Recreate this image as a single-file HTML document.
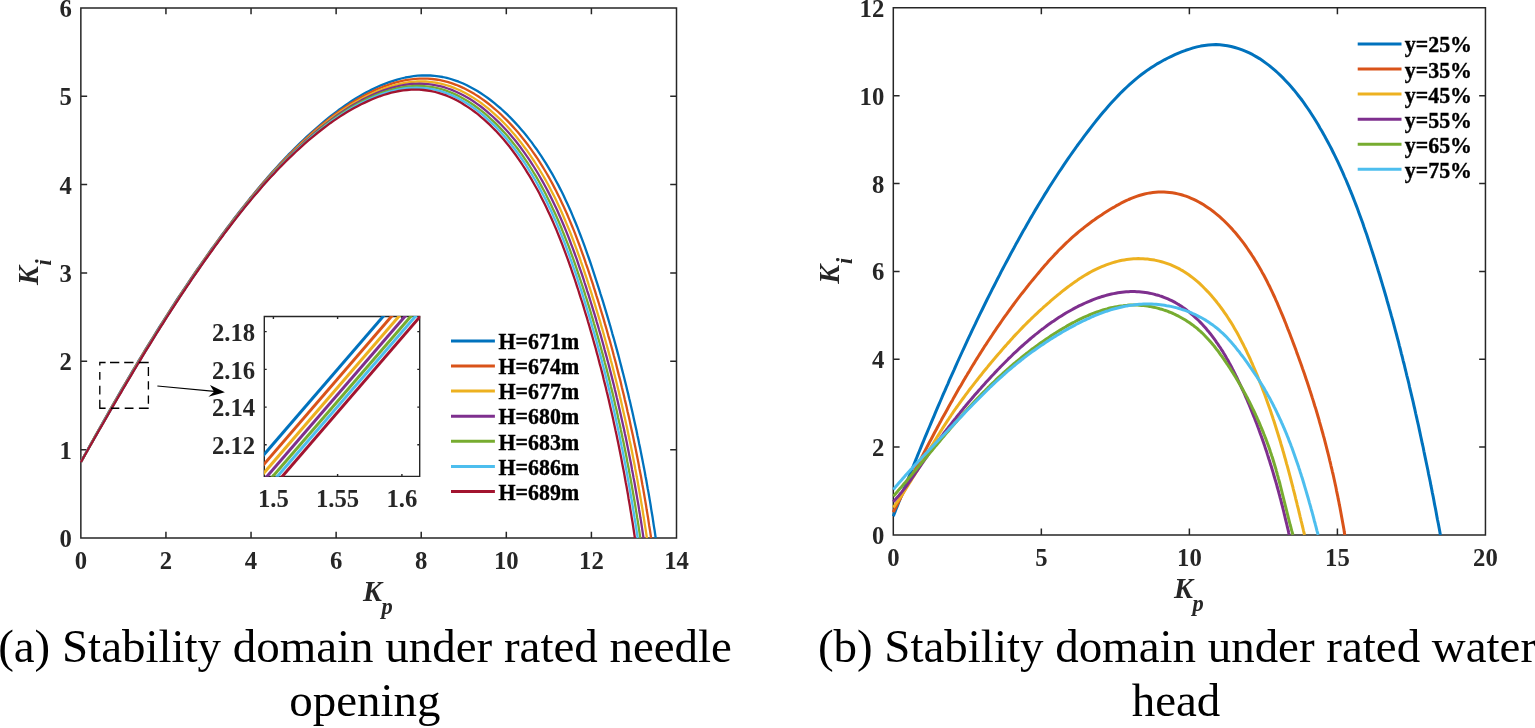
<!DOCTYPE html>
<html lang="en"><head><meta charset="utf-8"><title>Stability domain</title>
<style>html,body{margin:0;padding:0;background:#fff}body{width:1535px;height:728px;overflow:hidden}svg{display:block}text{font-family:"Liberation Serif","Times New Roman",serif}.tk{font-weight:bold;font-size:24.7px;fill:#262626}.lb{font-weight:bold;font-style:italic;font-size:28.4px;fill:#262626}.sb{font-weight:bold;font-style:italic;font-size:22.4px;fill:#262626}.lg{font-weight:bold;font-size:21.9px;fill:#000;stroke:#000;stroke-width:0.35px}.cap{font-size:46.95px;fill:#000}.ax{stroke:#262626;stroke-width:1.5;fill:none}.ax2{stroke:#262626;stroke-width:1.4;fill:none}.c{fill:none;stroke-linejoin:round;stroke-linecap:butt}</style></head><body>
<svg width="1535" height="728" viewBox="0 0 1535 728">
<rect width="1535" height="728" fill="#fff"/>
<g id="left-plot">
<path class="ax" d="M80.85,7.9H676.5V538.0H80.85ZM165.94,538.0v-6.3M165.94,7.9v6.3M251.04,538.0v-6.3M251.04,7.9v6.3M336.13,538.0v-6.3M336.13,7.9v6.3M421.22,538.0v-6.3M421.22,7.9v6.3M506.31,538.0v-6.3M506.31,7.9v6.3M591.41,538.0v-6.3M591.41,7.9v6.3M80.85,449.65h6.3M676.5,449.65h-6.3M80.85,361.30h6.3M676.5,361.30h-6.3M80.85,272.95h6.3M676.5,272.95h-6.3M80.85,184.60h6.3M676.5,184.60h-6.3M80.85,96.25h6.3M676.5,96.25h-6.3"/>
<text class="tk" x="80.85" y="569.10" text-anchor="middle">0</text>
<text class="tk" x="165.94" y="569.10" text-anchor="middle">2</text>
<text class="tk" x="251.04" y="569.10" text-anchor="middle">4</text>
<text class="tk" x="336.13" y="569.10" text-anchor="middle">6</text>
<text class="tk" x="421.22" y="569.10" text-anchor="middle">8</text>
<text class="tk" x="506.31" y="569.10" text-anchor="middle">10</text>
<text class="tk" x="591.41" y="569.10" text-anchor="middle">12</text>
<text class="tk" x="676.50" y="569.10" text-anchor="middle">14</text>
<text class="tk" x="71.85" y="547.00" text-anchor="end">0</text>
<text class="tk" x="71.85" y="458.65" text-anchor="end">1</text>
<text class="tk" x="71.85" y="370.30" text-anchor="end">2</text>
<text class="tk" x="71.85" y="281.95" text-anchor="end">3</text>
<text class="tk" x="71.85" y="193.60" text-anchor="end">4</text>
<text class="tk" x="71.85" y="105.25" text-anchor="end">5</text>
<text class="tk" x="71.85" y="16.90" text-anchor="end">6</text>
<clipPath id="cl"><rect x="79.35" y="7.9" width="597.15" height="530.6"/></clipPath>
<g clip-path="url(#cl)">
<path class="c" stroke="#0072BD" stroke-width="2.3" d="M80.8,462.0 L82.9,458.3 L84.9,454.7 L86.9,451.0 L88.9,447.4 L90.9,443.7 L93.0,440.1 L95.0,436.4 L97.0,432.8 L99.1,429.1 L101.1,425.5 L103.2,421.8 L105.2,418.2 L107.3,414.6 L109.3,410.9 L111.4,407.3 L113.5,403.7 L115.6,400.0 L117.7,396.4 L119.7,392.8 L121.8,389.2 L123.9,385.6 L126.1,382.0 L128.2,378.4 L130.3,374.8 L132.4,371.2 L134.6,367.6 L136.7,364.0 L138.8,360.4 L141.0,356.8 L143.2,353.3 L145.3,349.7 L147.5,346.1 L149.7,342.6 L151.9,339.0 L154.1,335.5 L156.3,331.9 L158.5,328.4 L160.7,324.8 L163.0,321.3 L165.2,317.8 L167.5,314.3 L169.7,310.8 L172.0,307.2 L174.3,303.7 L176.5,300.2 L178.8,296.7 L181.1,293.3 L183.4,289.8 L185.8,286.3 L188.1,282.8 L190.4,279.4 L192.8,275.9 L195.1,272.5 L197.5,269.0 L199.9,265.6 L202.3,262.2 L204.7,258.8 L207.1,255.3 L209.5,251.9 L211.9,248.5 L214.4,245.2 L216.8,241.8 L219.3,238.4 L221.8,235.0 L224.3,231.7 L226.8,228.3 L229.3,225.0 L231.8,221.7 L234.3,218.3 L236.9,215.0 L239.4,211.7 L242.0,208.4 L244.6,205.2 L247.2,201.9 L249.8,198.6 L252.5,195.4 L255.1,192.2 L257.8,188.9 L260.5,185.7 L263.2,182.6 L265.9,179.4 L268.6,176.2 L271.4,173.1 L274.2,170.0 L277.0,166.9 L279.8,163.8 L282.7,160.8 L285.5,157.8 L288.4,154.7 L291.4,151.8 L294.3,148.8 L297.3,145.8 L300.3,142.9 L303.3,140.0 L306.3,137.2 L309.4,134.4 L312.5,131.5 L315.6,128.8 L318.8,126.0 L321.9,123.3 L325.1,120.6 L328.4,118.0 L331.6,115.4 L335.0,112.8 L338.3,110.3 L341.7,107.9 L345.1,105.4 L348.5,103.1 L352.0,100.8 L355.6,98.6 L359.1,96.4 L362.8,94.3 L366.4,92.3 L370.1,90.4 L373.9,88.6 L377.7,86.8 L381.5,85.1 L385.4,83.6 L389.3,82.1 L393.2,80.8 L397.2,79.6 L401.3,78.5 L405.3,77.5 L409.5,76.8 L413.6,76.2 L417.7,75.7 L421.9,75.5 L426.1,75.4 L430.3,75.5 L434.4,75.8 L438.6,76.3 L442.7,77.0 L446.8,77.9 L450.8,79.0 L454.8,80.3 L458.7,81.7 L462.6,83.3 L466.4,85.0 L470.1,86.9 L473.8,88.9 L477.4,91.0 L480.9,93.2 L484.4,95.6 L487.8,98.0 L491.1,100.5 L494.4,103.1 L497.6,105.8 L500.8,108.5 L503.9,111.3 L506.9,114.2 L509.9,117.1 L512.8,120.1 L515.6,123.1 L518.5,126.2 L521.2,129.4 L523.9,132.6 L526.5,135.8 L529.1,139.1 L531.7,142.4 L534.1,145.8 L536.6,149.2 L538.9,152.6 L541.3,156.1 L543.5,159.6 L545.8,163.1 L547.9,166.7 L550.1,170.3 L552.2,173.9 L554.2,177.5 L556.2,181.2 L558.2,184.9 L560.1,188.6 L562.0,192.3 L563.8,196.1 L565.6,199.9 L567.4,203.7 L569.1,207.5 L570.8,211.3 L572.4,215.1 L574.0,219.0 L575.6,222.8 L577.2,226.7 L578.7,230.6 L580.2,234.5 L581.7,238.4 L583.2,242.3 L584.6,246.2 L586.0,250.2 L587.4,254.1 L588.8,258.0 L590.2,262.0 L591.5,265.9 L592.8,269.9 L594.1,273.9 L595.4,277.8 L596.7,281.8 L598.0,285.8 L599.3,289.8 L600.5,293.8 L601.8,297.8 L603.0,301.7 L604.2,305.7 L605.4,309.7 L606.6,313.7 L607.8,317.7 L609.0,321.8 L610.2,325.8 L611.3,329.8 L612.4,333.8 L613.6,337.8 L614.7,341.8 L615.8,345.9 L616.9,349.9 L618.0,353.9 L619.1,358.0 L620.1,362.0 L621.2,366.1 L622.2,370.1 L623.3,374.2 L624.3,378.2 L625.3,382.3 L626.3,386.3 L627.3,390.4 L628.3,394.4 L629.2,398.5 L630.2,402.6 L631.1,406.6 L632.1,410.7 L633.0,414.8 L633.9,418.9 L634.8,422.9 L635.7,427.0 L636.6,431.1 L637.4,435.2 L638.3,439.3 L639.1,443.4 L640.0,447.5 L640.8,451.6 L641.6,455.7 L642.4,459.8 L643.2,463.9 L644.0,468.0 L644.8,472.1 L645.5,476.2 L646.3,480.3 L647.0,484.4 L647.7,488.5 L648.5,492.6 L649.2,496.7 L649.9,500.9 L650.6,505.0 L651.2,509.1 L651.9,513.2 L652.6,517.3 L653.2,521.5 L653.8,525.6 L654.5,529.7 L655.1,533.9 L655.7,538.0"/>
<path class="c" stroke="#D95319" stroke-width="2.3" d="M80.9,462.0 L82.9,458.4 L84.9,454.8 L86.9,451.2 L88.9,447.5 L90.9,443.9 L92.9,440.3 L95.0,436.7 L97.0,433.1 L99.0,429.5 L101.1,425.8 L103.1,422.2 L105.1,418.6 L107.2,415.0 L109.3,411.4 L111.3,407.8 L113.4,404.2 L115.4,400.6 L117.5,397.1 L119.6,393.5 L121.7,389.9 L123.8,386.3 L125.9,382.7 L128.0,379.1 L130.1,375.6 L132.2,372.0 L134.3,368.4 L136.4,364.9 L138.6,361.3 L140.7,357.8 L142.8,354.2 L145.0,350.7 L147.2,347.2 L149.3,343.6 L151.5,340.1 L153.7,336.6 L155.9,333.0 L158.1,329.5 L160.3,326.0 L162.5,322.5 L164.7,319.0 L166.9,315.5 L169.2,312.0 L171.4,308.5 L173.7,305.1 L175.9,301.6 L178.2,298.1 L180.5,294.7 L182.8,291.2 L185.1,287.8 L187.4,284.3 L189.7,280.9 L192.0,277.4 L194.4,274.0 L196.7,270.6 L199.1,267.2 L201.5,263.8 L203.8,260.4 L206.2,257.0 L208.6,253.6 L211.0,250.3 L213.5,246.9 L215.9,243.5 L218.3,240.2 L220.8,236.8 L223.3,233.5 L225.7,230.2 L228.2,226.9 L230.7,223.6 L233.2,220.3 L235.8,217.0 L238.3,213.7 L240.8,210.4 L243.4,207.2 L246.0,203.9 L248.6,200.7 L251.2,197.5 L253.8,194.3 L256.5,191.1 L259.1,187.9 L261.8,184.7 L264.5,181.6 L267.3,178.5 L270.0,175.4 L272.8,172.3 L275.6,169.2 L278.4,166.2 L281.2,163.1 L284.1,160.1 L286.9,157.2 L289.8,154.2 L292.8,151.3 L295.7,148.3 L298.7,145.5 L301.7,142.6 L304.7,139.8 L307.8,137.0 L310.8,134.2 L313.9,131.4 L317.1,128.7 L320.2,126.0 L323.4,123.4 L326.6,120.8 L329.9,118.2 L333.2,115.7 L336.5,113.2 L339.9,110.8 L343.3,108.4 L346.7,106.1 L350.2,103.8 L353.7,101.6 L357.2,99.5 L360.8,97.4 L364.5,95.4 L368.2,93.5 L371.9,91.7 L375.6,89.9 L379.4,88.3 L383.3,86.7 L387.2,85.3 L391.1,83.9 L395.1,82.7 L399.1,81.6 L403.1,80.7 L407.2,79.9 L411.3,79.3 L415.4,78.9 L419.5,78.6 L423.7,78.6 L427.8,78.7 L431.9,79.0 L436.1,79.5 L440.1,80.2 L444.2,81.1 L448.2,82.1 L452.1,83.4 L456.0,84.8 L459.9,86.4 L463.6,88.1 L467.3,90.0 L471.0,92.0 L474.6,94.1 L478.1,96.3 L481.5,98.6 L484.9,101.0 L488.2,103.5 L491.4,106.1 L494.6,108.8 L497.7,111.5 L500.8,114.3 L503.7,117.2 L506.7,120.1 L509.6,123.1 L512.4,126.1 L515.2,129.2 L517.9,132.3 L520.5,135.5 L523.1,138.7 L525.7,142.0 L528.2,145.3 L530.6,148.7 L533.0,152.1 L535.4,155.5 L537.7,158.9 L539.9,162.4 L542.1,165.9 L544.3,169.5 L546.4,173.0 L548.5,176.6 L550.5,180.2 L552.5,183.9 L554.4,187.6 L556.3,191.2 L558.1,194.9 L560.0,198.7 L561.7,202.4 L563.5,206.2 L565.2,210.0 L566.9,213.7 L568.5,217.6 L570.1,221.4 L571.7,225.2 L573.3,229.1 L574.8,232.9 L576.3,236.8 L577.7,240.6 L579.2,244.5 L580.6,248.4 L582.0,252.3 L583.4,256.2 L584.8,260.1 L586.1,264.1 L587.5,268.0 L588.8,271.9 L590.1,275.9 L591.4,279.8 L592.7,283.7 L593.9,287.7 L595.2,291.6 L596.4,295.6 L597.7,299.6 L598.9,303.5 L600.1,307.5 L601.3,311.5 L602.5,315.4 L603.7,319.4 L604.8,323.4 L606.0,327.4 L607.1,331.3 L608.2,335.3 L609.4,339.3 L610.5,343.3 L611.6,347.3 L612.7,351.3 L613.7,355.3 L614.8,359.3 L615.9,363.3 L616.9,367.4 L617.9,371.4 L618.9,375.4 L620.0,379.4 L621.0,383.4 L621.9,387.5 L622.9,391.5 L623.9,395.5 L624.8,399.6 L625.8,403.6 L626.7,407.6 L627.6,411.7 L628.6,415.7 L629.5,419.8 L630.3,423.8 L631.2,427.9 L632.1,431.9 L633.0,436.0 L633.8,440.0 L634.6,444.1 L635.5,448.1 L636.3,452.2 L637.1,456.3 L637.9,460.3 L638.7,464.4 L639.4,468.5 L640.2,472.6 L641.0,476.6 L641.7,480.7 L642.4,484.8 L643.2,488.9 L643.9,493.0 L644.6,497.1 L645.3,501.1 L646.0,505.2 L646.6,509.3 L647.3,513.4 L648.0,517.5 L648.6,521.6 L649.2,525.7 L649.9,529.8 L650.5,533.9 L651.1,538.0"/>
<path class="c" stroke="#EDB120" stroke-width="2.3" d="M80.9,462.1 L82.9,458.5 L84.9,454.9 L86.9,451.3 L88.9,447.7 L90.9,444.1 L92.9,440.5 L94.9,436.9 L97.0,433.4 L99.0,429.8 L101.0,426.2 L103.0,422.6 L105.1,419.0 L107.1,415.5 L109.2,411.9 L111.2,408.3 L113.3,404.7 L115.3,401.2 L117.4,397.6 L119.5,394.1 L121.5,390.5 L123.6,386.9 L125.7,383.4 L127.8,379.8 L129.9,376.3 L132.0,372.8 L134.1,369.2 L136.2,365.7 L138.3,362.2 L140.4,358.6 L142.6,355.1 L144.7,351.6 L146.8,348.1 L149.0,344.6 L151.2,341.1 L153.3,337.6 L155.5,334.1 L157.7,330.6 L159.9,327.1 L162.1,323.6 L164.3,320.1 L166.5,316.7 L168.7,313.2 L170.9,309.7 L173.2,306.3 L175.4,302.8 L177.7,299.4 L179.9,295.9 L182.2,292.5 L184.5,289.1 L186.8,285.6 L189.1,282.2 L191.4,278.8 L193.7,275.4 L196.0,272.0 L198.4,268.6 L200.7,265.3 L203.1,261.9 L205.4,258.5 L207.8,255.2 L210.2,251.8 L212.6,248.5 L215.0,245.1 L217.4,241.8 L219.9,238.5 L222.3,235.2 L224.8,231.9 L227.3,228.6 L229.7,225.3 L232.2,222.0 L234.7,218.7 L237.2,215.5 L239.8,212.2 L242.3,209.0 L244.9,205.8 L247.5,202.6 L250.1,199.4 L252.7,196.2 L255.3,193.0 L258.0,189.9 L260.6,186.7 L263.3,183.6 L266.0,180.5 L268.7,177.4 L271.5,174.4 L274.3,171.3 L277.0,168.3 L279.9,165.3 L282.7,162.3 L285.6,159.3 L288.4,156.4 L291.4,153.5 L294.3,150.6 L297.2,147.7 L300.2,144.9 L303.2,142.1 L306.3,139.3 L309.3,136.6 L312.4,133.8 L315.5,131.2 L318.7,128.5 L321.9,125.9 L325.1,123.3 L328.3,120.7 L331.6,118.2 L334.9,115.8 L338.2,113.4 L341.6,111.0 L345.0,108.7 L348.5,106.5 L352.0,104.3 L355.5,102.2 L359.1,100.2 L362.7,98.2 L366.3,96.3 L370.0,94.5 L373.8,92.8 L377.6,91.1 L381.4,89.6 L385.2,88.1 L389.1,86.8 L393.1,85.6 L397.0,84.5 L401.0,83.6 L405.1,82.8 L409.2,82.2 L413.2,81.8 L417.4,81.5 L421.5,81.4 L425.6,81.5 L429.7,81.8 L433.8,82.3 L437.8,83.0 L441.8,83.9 L445.8,85.0 L449.7,86.2 L453.6,87.6 L457.4,89.2 L461.2,90.9 L464.8,92.8 L468.4,94.8 L472.0,96.9 L475.4,99.1 L478.8,101.4 L482.2,103.8 L485.5,106.3 L488.7,108.9 L491.8,111.6 L494.9,114.3 L497.9,117.1 L500.9,119.9 L503.8,122.8 L506.7,125.8 L509.4,128.8 L512.2,131.9 L514.9,135.0 L517.5,138.2 L520.1,141.4 L522.6,144.7 L525.0,148.0 L527.5,151.3 L529.8,154.7 L532.1,158.1 L534.4,161.5 L536.6,165.0 L538.8,168.5 L540.9,172.0 L543.0,175.5 L545.1,179.1 L547.1,182.7 L549.0,186.3 L550.9,190.0 L552.8,193.6 L554.7,197.3 L556.5,201.0 L558.2,204.7 L560.0,208.5 L561.7,212.2 L563.3,216.0 L564.9,219.8 L566.5,223.6 L568.1,227.4 L569.7,231.2 L571.2,235.0 L572.7,238.9 L574.1,242.7 L575.6,246.6 L577.0,250.4 L578.4,254.3 L579.8,258.2 L581.1,262.1 L582.5,266.0 L583.8,269.9 L585.1,273.8 L586.4,277.7 L587.7,281.6 L588.9,285.5 L590.2,289.4 L591.5,293.3 L592.7,297.3 L593.9,301.2 L595.1,305.1 L596.3,309.1 L597.5,313.0 L598.7,317.0 L599.9,320.9 L601.0,324.9 L602.2,328.8 L603.3,332.8 L604.4,336.7 L605.5,340.7 L606.6,344.7 L607.7,348.6 L608.8,352.6 L609.9,356.6 L610.9,360.6 L612.0,364.5 L613.0,368.5 L614.0,372.5 L615.0,376.5 L616.0,380.5 L617.0,384.5 L618.0,388.5 L619.0,392.5 L619.9,396.5 L620.9,400.5 L621.8,404.5 L622.7,408.5 L623.6,412.5 L624.5,416.6 L625.4,420.6 L626.3,424.6 L627.2,428.6 L628.0,432.6 L628.9,436.7 L629.7,440.7 L630.6,444.7 L631.4,448.8 L632.2,452.8 L633.0,456.9 L633.8,460.9 L634.6,464.9 L635.3,469.0 L636.1,473.0 L636.8,477.1 L637.6,481.1 L638.3,485.2 L639.0,489.2 L639.7,493.3 L640.4,497.3 L641.1,501.4 L641.8,505.5 L642.5,509.5 L643.1,513.6 L643.8,517.7 L644.4,521.7 L645.0,525.8 L645.7,529.9 L646.3,533.9 L646.9,538.0"/>
<path class="c" stroke="#7E2F8E" stroke-width="2.3" d="M80.9,462.1 L82.9,458.5 L84.9,455.0 L86.9,451.4 L88.9,447.8 L90.9,444.3 L92.9,440.7 L94.9,437.1 L96.9,433.6 L98.9,430.0 L101.0,426.5 L103.0,422.9 L105.0,419.3 L107.1,415.8 L109.1,412.2 L111.1,408.7 L113.2,405.2 L115.2,401.6 L117.3,398.1 L119.3,394.5 L121.4,391.0 L123.5,387.5 L125.5,383.9 L127.6,380.4 L129.7,376.9 L131.8,373.4 L133.9,369.8 L136.0,366.3 L138.1,362.8 L140.2,359.3 L142.3,355.8 L144.5,352.3 L146.6,348.8 L148.7,345.3 L150.9,341.8 L153.0,338.4 L155.2,334.9 L157.4,331.4 L159.5,327.9 L161.7,324.5 L163.9,321.0 L166.1,317.6 L168.3,314.1 L170.5,310.7 L172.7,307.2 L175.0,303.8 L177.2,300.4 L179.5,296.9 L181.7,293.5 L184.0,290.1 L186.3,286.7 L188.5,283.3 L190.8,279.9 L193.1,276.5 L195.5,273.2 L197.8,269.8 L200.1,266.4 L202.5,263.1 L204.8,259.7 L207.2,256.4 L209.6,253.1 L211.9,249.7 L214.3,246.4 L216.7,243.1 L219.2,239.8 L221.6,236.5 L224.0,233.2 L226.5,229.9 L228.9,226.7 L231.4,223.4 L233.9,220.2 L236.4,216.9 L238.9,213.7 L241.5,210.5 L244.0,207.3 L246.6,204.1 L249.2,200.9 L251.8,197.7 L254.4,194.6 L257.0,191.4 L259.7,188.3 L262.3,185.2 L265.0,182.1 L267.7,179.1 L270.5,176.0 L273.2,173.0 L276.0,170.0 L278.8,167.0 L281.6,164.0 L284.5,161.1 L287.3,158.2 L290.2,155.3 L293.2,152.4 L296.1,149.6 L299.1,146.8 L302.1,144.0 L305.1,141.2 L308.1,138.5 L311.2,135.8 L314.3,133.1 L317.5,130.5 L320.6,127.9 L323.8,125.3 L327.0,122.8 L330.3,120.3 L333.6,117.9 L336.9,115.5 L340.3,113.2 L343.7,110.9 L347.1,108.7 L350.6,106.5 L354.1,104.4 L357.7,102.4 L361.3,100.4 L364.9,98.6 L368.6,96.8 L372.3,95.0 L376.1,93.4 L379.9,91.9 L383.7,90.4 L387.6,89.1 L391.5,87.9 L395.4,86.8 L399.4,85.9 L403.4,85.1 L407.5,84.5 L411.5,84.0 L415.6,83.8 L419.7,83.7 L423.8,83.8 L427.9,84.1 L432.0,84.6 L436.0,85.3 L440.0,86.2 L443.9,87.2 L447.8,88.5 L451.7,89.9 L455.5,91.5 L459.2,93.2 L462.8,95.0 L466.4,97.0 L469.9,99.1 L473.4,101.3 L476.7,103.6 L480.1,106.0 L483.3,108.5 L486.5,111.1 L489.6,113.8 L492.7,116.5 L495.7,119.3 L498.6,122.1 L501.5,125.0 L504.3,128.0 L507.1,131.0 L509.8,134.1 L512.5,137.2 L515.1,140.3 L517.6,143.5 L520.1,146.8 L522.5,150.1 L524.9,153.4 L527.3,156.8 L529.6,160.1 L531.8,163.6 L534.0,167.0 L536.2,170.5 L538.3,174.0 L540.3,177.5 L542.4,181.1 L544.4,184.7 L546.3,188.3 L548.2,191.9 L550.1,195.6 L551.9,199.2 L553.7,202.9 L555.4,206.6 L557.2,210.3 L558.8,214.0 L560.5,217.8 L562.1,221.5 L563.7,225.3 L565.3,229.1 L566.8,232.9 L568.3,236.7 L569.8,240.5 L571.2,244.3 L572.7,248.2 L574.1,252.0 L575.5,255.9 L576.9,259.7 L578.2,263.6 L579.5,267.5 L580.9,271.3 L582.2,275.2 L583.5,279.1 L584.7,283.0 L586.0,286.9 L587.2,290.8 L588.5,294.7 L589.7,298.6 L590.9,302.5 L592.1,306.4 L593.3,310.3 L594.5,314.2 L595.7,318.2 L596.8,322.1 L598.0,326.0 L599.1,330.0 L600.3,333.9 L601.4,337.8 L602.5,341.8 L603.6,345.7 L604.6,349.7 L605.7,353.6 L606.8,357.6 L607.8,361.5 L608.9,365.5 L609.9,369.5 L610.9,373.4 L611.9,377.4 L612.9,381.4 L613.9,385.3 L614.8,389.3 L615.8,393.3 L616.7,397.3 L617.7,401.3 L618.6,405.3 L619.5,409.2 L620.4,413.2 L621.3,417.2 L622.2,421.2 L623.1,425.2 L624.0,429.2 L624.8,433.2 L625.7,437.2 L626.5,441.3 L627.3,445.3 L628.1,449.3 L628.9,453.3 L629.7,457.3 L630.5,461.3 L631.3,465.3 L632.0,469.4 L632.8,473.4 L633.5,477.4 L634.3,481.4 L635.0,485.5 L635.7,489.5 L636.4,493.5 L637.1,497.6 L637.8,501.6 L638.5,505.6 L639.1,509.7 L639.8,513.7 L640.4,517.8 L641.1,521.8 L641.7,525.9 L642.3,529.9 L642.9,534.0 L643.5,538.0"/>
<path class="c" stroke="#77AC30" stroke-width="2.3" d="M80.9,462.1 L82.8,458.6 L84.8,455.1 L86.9,451.5 L88.9,448.0 L90.9,444.4 L92.9,440.9 L94.9,437.3 L96.9,433.8 L98.9,430.3 L100.9,426.7 L102.9,423.2 L105.0,419.7 L107.0,416.1 L109.0,412.6 L111.1,409.1 L113.1,405.5 L115.1,402.0 L117.2,398.5 L119.2,395.0 L121.3,391.5 L123.3,388.0 L125.4,384.4 L127.5,380.9 L129.6,377.4 L131.6,373.9 L133.7,370.4 L135.8,366.9 L137.9,363.4 L140.0,360.0 L142.1,356.5 L144.2,353.0 L146.3,349.5 L148.5,346.0 L150.6,342.6 L152.7,339.1 L154.9,335.7 L157.0,332.2 L159.2,328.8 L161.4,325.3 L163.6,321.9 L165.7,318.4 L167.9,315.0 L170.1,311.6 L172.3,308.1 L174.6,304.7 L176.8,301.3 L179.0,297.9 L181.3,294.5 L183.5,291.1 L185.8,287.7 L188.0,284.4 L190.3,281.0 L192.6,277.6 L194.9,274.3 L197.2,270.9 L199.5,267.6 L201.9,264.2 L204.2,260.9 L206.6,257.6 L208.9,254.2 L211.3,250.9 L213.7,247.6 L216.1,244.3 L218.5,241.1 L220.9,237.8 L223.3,234.5 L225.7,231.2 L228.2,228.0 L230.7,224.7 L233.1,221.5 L235.6,218.3 L238.1,215.1 L240.6,211.9 L243.2,208.7 L245.7,205.5 L248.3,202.3 L250.9,199.2 L253.5,196.1 L256.1,192.9 L258.7,189.8 L261.4,186.8 L264.1,183.7 L266.8,180.6 L269.5,177.6 L272.2,174.6 L275.0,171.6 L277.8,168.6 L280.6,165.7 L283.4,162.8 L286.3,159.9 L289.1,157.0 L292.1,154.2 L295.0,151.3 L298.0,148.5 L300.9,145.8 L303.9,143.0 L307.0,140.3 L310.1,137.6 L313.1,135.0 L316.3,132.4 L319.4,129.8 L322.6,127.2 L325.8,124.7 L329.1,122.3 L332.3,119.9 L335.7,117.5 L339.0,115.2 L342.4,112.9 L345.8,110.7 L349.3,108.6 L352.8,106.5 L356.3,104.5 L359.9,102.6 L363.5,100.7 L367.2,98.9 L370.9,97.2 L374.6,95.6 L378.4,94.1 L382.2,92.6 L386.0,91.3 L389.9,90.1 L393.9,89.0 L397.8,88.1 L401.8,87.3 L405.8,86.7 L409.9,86.3 L414.0,86.0 L418.0,85.9 L422.1,86.0 L426.2,86.3 L430.2,86.8 L434.2,87.5 L438.2,88.4 L442.1,89.4 L446.0,90.7 L449.8,92.1 L453.6,93.6 L457.3,95.4 L460.9,97.2 L464.4,99.2 L467.9,101.3 L471.4,103.5 L474.7,105.8 L478.0,108.2 L481.2,110.7 L484.4,113.2 L487.5,115.9 L490.5,118.6 L493.5,121.4 L496.4,124.2 L499.3,127.1 L502.1,130.1 L504.8,133.1 L507.5,136.1 L510.1,139.2 L512.7,142.4 L515.2,145.6 L517.7,148.8 L520.1,152.1 L522.5,155.4 L524.8,158.8 L527.1,162.1 L529.3,165.5 L531.5,169.0 L533.6,172.5 L535.7,175.9 L537.8,179.5 L539.8,183.0 L541.7,186.6 L543.7,190.2 L545.6,193.8 L547.4,197.4 L549.2,201.0 L551.0,204.7 L552.7,208.4 L554.4,212.1 L556.1,215.8 L557.8,219.5 L559.4,223.2 L561.0,227.0 L562.5,230.8 L564.0,234.5 L565.5,238.3 L567.0,242.1 L568.5,245.9 L569.9,249.7 L571.3,253.6 L572.7,257.4 L574.0,261.2 L575.4,265.1 L576.7,268.9 L578.0,272.8 L579.3,276.6 L580.6,280.5 L581.9,284.4 L583.1,288.2 L584.4,292.1 L585.6,296.0 L586.9,299.9 L588.1,303.8 L589.3,307.7 L590.5,311.5 L591.6,315.4 L592.8,319.3 L593.9,323.3 L595.1,327.2 L596.2,331.1 L597.3,335.0 L598.4,338.9 L599.5,342.8 L600.6,346.8 L601.7,350.7 L602.8,354.6 L603.8,358.5 L604.8,362.5 L605.9,366.4 L606.9,370.4 L607.9,374.3 L608.9,378.3 L609.9,382.2 L610.8,386.2 L611.8,390.1 L612.8,394.1 L613.7,398.0 L614.6,402.0 L615.5,406.0 L616.5,409.9 L617.4,413.9 L618.2,417.9 L619.1,421.9 L620.0,425.8 L620.8,429.8 L621.7,433.8 L622.5,437.8 L623.4,441.8 L624.2,445.8 L625.0,449.8 L625.8,453.7 L626.6,457.7 L627.3,461.7 L628.1,465.7 L628.9,469.7 L629.6,473.7 L630.4,477.7 L631.1,481.8 L631.8,485.8 L632.5,489.8 L633.2,493.8 L633.9,497.8 L634.6,501.8 L635.3,505.8 L635.9,509.8 L636.6,513.9 L637.2,517.9 L637.9,521.9 L638.5,525.9 L639.1,529.9 L639.7,534.0 L640.3,538.0"/>
<path class="c" stroke="#4DBEEE" stroke-width="2.3" d="M80.9,462.2 L82.8,458.6 L84.8,455.1 L86.8,451.6 L88.8,448.1 L90.8,444.5 L92.9,441.0 L94.9,437.5 L96.9,434.0 L98.9,430.5 L100.9,426.9 L102.9,423.4 L104.9,419.9 L106.9,416.4 L109.0,412.9 L111.0,409.4 L113.0,405.9 L115.1,402.4 L117.1,398.8 L119.1,395.3 L121.2,391.8 L123.2,388.4 L125.3,384.9 L127.4,381.4 L129.4,377.9 L131.5,374.4 L133.6,370.9 L135.7,367.4 L137.7,364.0 L139.8,360.5 L141.9,357.0 L144.0,353.6 L146.1,350.1 L148.3,346.6 L150.4,343.2 L152.5,339.7 L154.7,336.3 L156.8,332.8 L159.0,329.4 L161.1,326.0 L163.3,322.6 L165.4,319.1 L167.6,315.7 L169.8,312.3 L172.0,308.9 L174.2,305.5 L176.4,302.1 L178.7,298.7 L180.9,295.3 L183.1,291.9 L185.4,288.6 L187.6,285.2 L189.9,281.8 L192.2,278.5 L194.5,275.1 L196.8,271.8 L199.1,268.5 L201.4,265.1 L203.7,261.8 L206.1,258.5 L208.4,255.2 L210.8,251.9 L213.1,248.6 L215.5,245.3 L217.9,242.1 L220.3,238.8 L222.7,235.5 L225.1,232.3 L227.6,229.1 L230.0,225.8 L232.5,222.6 L235.0,219.4 L237.5,216.2 L240.0,213.0 L242.5,209.8 L245.0,206.7 L247.6,203.5 L250.1,200.4 L252.7,197.3 L255.3,194.2 L258.0,191.1 L260.6,188.0 L263.3,185.0 L266.0,181.9 L268.7,178.9 L271.4,175.9 L274.2,172.9 L276.9,170.0 L279.7,167.0 L282.6,164.1 L285.4,161.2 L288.3,158.4 L291.2,155.6 L294.1,152.7 L297.0,150.0 L300.0,147.2 L303.0,144.5 L306.1,141.8 L309.1,139.1 L312.2,136.5 L315.3,133.9 L318.4,131.3 L321.6,128.8 L324.8,126.3 L328.1,123.9 L331.3,121.5 L334.6,119.1 L338.0,116.9 L341.4,114.6 L344.8,112.4 L348.2,110.3 L351.7,108.2 L355.2,106.2 L358.8,104.3 L362.4,102.5 L366.1,100.7 L369.7,99.0 L373.5,97.4 L377.2,95.8 L381.0,94.4 L384.8,93.1 L388.7,91.9 L392.6,90.8 L396.6,89.9 L400.5,89.1 L404.5,88.5 L408.6,88.0 L412.6,87.8 L416.7,87.7 L420.7,87.8 L424.8,88.1 L428.8,88.6 L432.8,89.2 L436.7,90.1 L440.6,91.2 L444.5,92.4 L448.3,93.8 L452.0,95.4 L455.7,97.1 L459.3,98.9 L462.9,100.9 L466.3,103.0 L469.8,105.2 L473.1,107.5 L476.4,109.9 L479.6,112.4 L482.7,114.9 L485.8,117.6 L488.8,120.3 L491.8,123.1 L494.7,125.9 L497.5,128.8 L500.3,131.7 L503.0,134.7 L505.7,137.8 L508.3,140.9 L510.8,144.0 L513.3,147.2 L515.8,150.5 L518.2,153.7 L520.5,157.0 L522.8,160.4 L525.1,163.7 L527.3,167.1 L529.4,170.6 L531.6,174.0 L533.6,177.5 L535.7,181.0 L537.7,184.5 L539.6,188.1 L541.5,191.7 L543.4,195.3 L545.3,198.9 L547.1,202.5 L548.8,206.2 L550.6,209.8 L552.3,213.5 L553.9,217.2 L555.6,220.9 L557.2,224.6 L558.8,228.4 L560.3,232.1 L561.8,235.9 L563.3,239.6 L564.8,243.4 L566.2,247.2 L567.6,251.0 L569.1,254.8 L570.4,258.6 L571.8,262.4 L573.1,266.3 L574.5,270.1 L575.8,273.9 L577.1,277.8 L578.3,281.6 L579.6,285.5 L580.9,289.3 L582.1,293.2 L583.3,297.0 L584.5,300.9 L585.7,304.8 L586.9,308.6 L588.1,312.5 L589.3,316.4 L590.5,320.3 L591.6,324.2 L592.7,328.1 L593.9,332.0 L595.0,335.9 L596.1,339.8 L597.2,343.7 L598.2,347.6 L599.3,351.5 L600.4,355.4 L601.4,359.3 L602.4,363.2 L603.5,367.2 L604.5,371.1 L605.5,375.0 L606.5,379.0 L607.4,382.9 L608.4,386.8 L609.4,390.8 L610.3,394.7 L611.2,398.6 L612.2,402.6 L613.1,406.5 L614.0,410.5 L614.9,414.5 L615.8,418.4 L616.6,422.4 L617.5,426.3 L618.3,430.3 L619.2,434.3 L620.0,438.2 L620.8,442.2 L621.6,446.2 L622.5,450.1 L623.2,454.1 L624.0,458.1 L624.8,462.1 L625.6,466.1 L626.3,470.0 L627.1,474.0 L627.8,478.0 L628.5,482.0 L629.2,486.0 L629.9,490.0 L630.6,494.0 L631.3,498.0 L632.0,502.0 L632.7,506.0 L633.3,510.0 L634.0,514.0 L634.6,518.0 L635.3,522.0 L635.9,526.0 L636.5,530.0 L637.1,534.0 L637.7,538.0"/>
<path class="c" stroke="#A2142F" stroke-width="2.3" d="M80.9,462.2 L82.8,458.7 L84.8,455.2 L86.8,451.7 L88.8,448.2 L90.8,444.7 L92.8,441.2 L94.8,437.7 L96.8,434.2 L98.8,430.7 L100.9,427.2 L102.9,423.7 L104.9,420.2 L106.9,416.7 L108.9,413.2 L110.9,409.7 L113.0,406.2 L115.0,402.7 L117.0,399.2 L119.1,395.7 L121.1,392.3 L123.1,388.8 L125.2,385.3 L127.2,381.8 L129.3,378.4 L131.4,374.9 L133.4,371.4 L135.5,368.0 L137.6,364.5 L139.7,361.1 L141.7,357.6 L143.8,354.2 L145.9,350.7 L148.0,347.3 L150.2,343.8 L152.3,340.4 L154.4,337.0 L156.5,333.5 L158.7,330.1 L160.8,326.7 L163.0,323.3 L165.1,319.9 L167.3,316.5 L169.5,313.1 L171.7,309.7 L173.9,306.3 L176.1,302.9 L178.3,299.6 L180.5,296.2 L182.7,292.8 L185.0,289.5 L187.2,286.1 L189.5,282.8 L191.7,279.4 L194.0,276.1 L196.3,272.8 L198.6,269.5 L200.9,266.1 L203.2,262.8 L205.5,259.5 L207.9,256.2 L210.2,253.0 L212.6,249.7 L214.9,246.4 L217.3,243.2 L219.7,239.9 L222.1,236.7 L224.5,233.4 L226.9,230.2 L229.4,227.0 L231.8,223.8 L234.3,220.6 L236.8,217.4 L239.2,214.2 L241.8,211.1 L244.3,207.9 L246.8,204.8 L249.4,201.7 L251.9,198.6 L254.5,195.5 L257.2,192.4 L259.8,189.4 L262.4,186.3 L265.1,183.3 L267.8,180.3 L270.5,177.3 L273.3,174.4 L276.0,171.4 L278.8,168.5 L281.6,165.6 L284.5,162.7 L287.3,159.9 L290.2,157.1 L293.1,154.3 L296.1,151.5 L299.0,148.8 L302.0,146.1 L305.0,143.4 L308.1,140.7 L311.2,138.1 L314.3,135.6 L317.4,133.0 L320.6,130.5 L323.8,128.0 L327.0,125.6 L330.2,123.2 L333.5,120.9 L336.9,118.6 L340.2,116.4 L343.6,114.2 L347.1,112.1 L350.6,110.1 L354.1,108.1 L357.6,106.2 L361.2,104.3 L364.8,102.6 L368.5,100.9 L372.2,99.3 L375.9,97.8 L379.7,96.3 L383.5,95.0 L387.4,93.8 L391.3,92.7 L395.2,91.8 L399.1,91.0 L403.1,90.4 L407.1,90.0 L411.2,89.7 L415.2,89.6 L419.2,89.7 L423.3,90.0 L427.3,90.5 L431.2,91.1 L435.2,92.0 L439.1,93.1 L442.9,94.3 L446.7,95.7 L450.4,97.3 L454.1,99.0 L457.6,100.8 L461.2,102.8 L464.6,104.9 L468.0,107.1 L471.3,109.4 L474.6,111.8 L477.8,114.2 L480.9,116.8 L483.9,119.4 L486.9,122.1 L489.9,124.9 L492.7,127.7 L495.6,130.6 L498.3,133.6 L501.0,136.6 L503.7,139.6 L506.3,142.7 L508.8,145.8 L511.3,149.0 L513.7,152.2 L516.1,155.5 L518.4,158.8 L520.7,162.1 L522.9,165.5 L525.1,168.9 L527.2,172.3 L529.3,175.7 L531.4,179.2 L533.4,182.7 L535.4,186.2 L537.4,189.7 L539.3,193.3 L541.1,196.9 L542.9,200.5 L544.7,204.1 L546.5,207.7 L548.2,211.4 L549.9,215.0 L551.6,218.7 L553.2,222.4 L554.8,226.1 L556.4,229.8 L557.9,233.6 L559.4,237.3 L560.9,241.0 L562.4,244.8 L563.8,248.6 L565.2,252.3 L566.6,256.1 L568.0,259.9 L569.3,263.7 L570.7,267.5 L572.0,271.3 L573.3,275.2 L574.6,279.0 L575.9,282.8 L577.1,286.6 L578.4,290.5 L579.6,294.3 L580.8,298.2 L582.1,302.0 L583.3,305.9 L584.4,309.7 L585.6,313.6 L586.8,317.4 L587.9,321.3 L589.1,325.2 L590.2,329.1 L591.3,332.9 L592.4,336.8 L593.5,340.7 L594.6,344.6 L595.7,348.5 L596.7,352.4 L597.8,356.3 L598.8,360.2 L599.8,364.1 L600.9,368.0 L601.9,371.9 L602.9,375.8 L603.8,379.7 L604.8,383.6 L605.8,387.5 L606.7,391.5 L607.7,395.4 L608.6,399.3 L609.5,403.2 L610.4,407.2 L611.3,411.1 L612.2,415.0 L613.1,419.0 L613.9,422.9 L614.8,426.9 L615.6,430.8 L616.5,434.7 L617.3,438.7 L618.1,442.6 L618.9,446.6 L619.7,450.6 L620.5,454.5 L621.3,458.5 L622.0,462.4 L622.8,466.4 L623.6,470.4 L624.3,474.3 L625.0,478.3 L625.7,482.3 L626.5,486.2 L627.2,490.2 L627.9,494.2 L628.5,498.2 L629.2,502.1 L629.9,506.1 L630.5,510.1 L631.2,514.1 L631.8,518.1 L632.5,522.0 L633.1,526.0 L633.7,530.0 L634.3,534.0 L634.9,538.0"/>
</g>
<text class="lb" x="363.0" y="600.9">K</text><text class="sb" x="381.5" y="613.6">p</text>
<g transform="translate(38.0,285.1) rotate(-90)"><text class="lb" x="0" y="0">K</text><text class="sb" x="19.6" y="13.1">i</text></g>
<path d="M99.2,362.5H105.6M110.0,362.5H119.3M124.2,362.5H133.5M138.9,362.5H148.7M99.2,408.2H105.6M111.0,408.2H119.3M124.7,408.2H133.5M138.9,408.2H148.7M148.4,367.1V375.9M148.4,381.3V389.6M148.4,395.4V403.7M99.8,362.5V365.6M99.8,372.0V379.8M99.8,385.7V394.5M99.8,399.8V408.6" stroke="#000" stroke-width="1.35" fill="none"/>
<path d="M157.4,386.0L214.5,391.4" stroke="#000" stroke-width="1.1" fill="none"/>
<path d="M224.9,392.3L208.4,396.7L214.1,391.8L210.0,385.0Z" fill="#000"/>
<rect x="264.3" y="316.5" width="155.39999999999998" height="159.89999999999998" fill="#fff"/>
<path class="ax2" d="M264.3,316.5H419.7V476.4H264.3ZM273.4,476.4v-2.4M273.4,316.5v2.4M337.6,476.4v-2.4M337.6,316.5v2.4M401.9,476.4v-2.4M401.9,316.5v2.4M264.3,331.6h2.4M419.7,331.6h-2.4M264.3,369.4h2.4M419.7,369.4h-2.4M264.3,407.1h2.4M419.7,407.1h-2.4M264.3,444.8h2.4M419.7,444.8h-2.4"/>
<clipPath id="ci"><rect x="264.0" y="316.0" width="156.2" height="160.7"/></clipPath>
<g clip-path="url(#ci)">
<path class="c" stroke="#0072BD" stroke-width="3.0" d="M391.7,306.5L236.6,486.4"/>
<path class="c" stroke="#D95319" stroke-width="3.0" d="M400.0,306.5L244.9,486.4"/>
<path class="c" stroke="#EDB120" stroke-width="3.0" d="M407.4,306.5L252.3,486.4"/>
<path class="c" stroke="#7E2F8E" stroke-width="3.0" d="M413.5,306.5L258.4,486.4"/>
<path class="c" stroke="#77AC30" stroke-width="3.0" d="M419.3,306.5L264.2,486.4"/>
<path class="c" stroke="#4DBEEE" stroke-width="3.0" d="M423.9,306.5L268.8,486.4"/>
<path class="c" stroke="#A2142F" stroke-width="3.0" d="M428.8,306.5L273.7,486.4"/>
</g>
<text class="tk" x="273.4" y="507.1" text-anchor="middle">1.5</text>
<text class="tk" x="337.6" y="507.1" text-anchor="middle">1.55</text>
<text class="tk" x="401.9" y="507.1" text-anchor="middle">1.6</text>
<text class="tk" x="255.1" y="340.8" text-anchor="end">2.18</text>
<text class="tk" x="255.1" y="378.6" text-anchor="end">2.16</text>
<text class="tk" x="255.1" y="416.3" text-anchor="end">2.14</text>
<text class="tk" x="255.1" y="454.0" text-anchor="end">2.12</text>
<path d="M451,340.9H494.9" stroke="#0072BD" stroke-width="3.0"/>
<text class="lg" transform="translate(498.6,349.1) scale(1,1.065)">H=671m</text>
<path d="M451,366.0H494.9" stroke="#D95319" stroke-width="3.0"/>
<text class="lg" transform="translate(498.6,374.2) scale(1,1.065)">H=674m</text>
<path d="M451,391.1H494.9" stroke="#EDB120" stroke-width="3.0"/>
<text class="lg" transform="translate(498.6,399.3) scale(1,1.065)">H=677m</text>
<path d="M451,416.2H494.9" stroke="#7E2F8E" stroke-width="3.0"/>
<text class="lg" transform="translate(498.6,424.4) scale(1,1.065)">H=680m</text>
<path d="M451,441.3H494.9" stroke="#77AC30" stroke-width="3.0"/>
<text class="lg" transform="translate(498.6,449.5) scale(1,1.065)">H=683m</text>
<path d="M451,466.4H494.9" stroke="#4DBEEE" stroke-width="3.0"/>
<text class="lg" transform="translate(498.6,474.6) scale(1,1.065)">H=686m</text>
<path d="M451,491.5H494.9" stroke="#A2142F" stroke-width="3.0"/>
<text class="lg" transform="translate(498.6,499.7) scale(1,1.065)">H=689m</text>
</g>
<g id="right-plot">
<path class="ax" d="M893.3,7.85H1485.45V534.9H893.3ZM1041.34,534.9v-6.3M1041.34,7.85v6.3M1189.38,534.9v-6.3M1189.38,7.85v6.3M1337.41,534.9v-6.3M1337.41,7.85v6.3M893.3,447.06h6.3M1485.45,447.06h-6.3M893.3,359.22h6.3M1485.45,359.22h-6.3M893.3,271.38h6.3M1485.45,271.38h-6.3M893.3,183.53h6.3M1485.45,183.53h-6.3M893.3,95.69h6.3M1485.45,95.69h-6.3"/>
<text class="tk" x="893.30" y="566.00" text-anchor="middle">0</text>
<text class="tk" x="1041.34" y="566.00" text-anchor="middle">5</text>
<text class="tk" x="1189.38" y="566.00" text-anchor="middle">10</text>
<text class="tk" x="1337.41" y="566.00" text-anchor="middle">15</text>
<text class="tk" x="1485.45" y="566.00" text-anchor="middle">20</text>
<text class="tk" x="884.30" y="543.90" text-anchor="end">0</text>
<text class="tk" x="884.30" y="456.06" text-anchor="end">2</text>
<text class="tk" x="884.30" y="368.22" text-anchor="end">4</text>
<text class="tk" x="884.30" y="280.38" text-anchor="end">6</text>
<text class="tk" x="884.30" y="192.53" text-anchor="end">8</text>
<text class="tk" x="884.30" y="104.69" text-anchor="end">10</text>
<text class="tk" x="884.30" y="16.85" text-anchor="end">12</text>
<clipPath id="cr"><rect x="891.8" y="7.85" width="593.6500000000001" height="527.55"/></clipPath>
<g clip-path="url(#cr)">
<path class="c" stroke="#0072BD" stroke-width="3.0" d="M893.3,516.2 L894.7,512.6 L896.1,509.0 L897.6,505.4 L899.0,501.8 L900.4,498.2 L901.8,494.6 L903.3,491.0 L904.7,487.4 L906.1,483.8 L907.6,480.2 L909.0,476.6 L910.5,473.0 L911.9,469.4 L913.4,465.9 L914.8,462.3 L916.3,458.7 L917.7,455.1 L919.2,451.5 L920.7,447.9 L922.1,444.4 L923.6,440.8 L925.1,437.2 L926.6,433.6 L928.1,430.0 L929.6,426.5 L931.1,422.9 L932.6,419.3 L934.1,415.8 L935.6,412.2 L937.1,408.6 L938.6,405.1 L940.2,401.5 L941.7,398.0 L943.2,394.4 L944.8,390.9 L946.3,387.3 L947.9,383.8 L949.4,380.2 L951.0,376.7 L952.6,373.1 L954.2,369.6 L955.7,366.1 L957.3,362.5 L958.9,359.0 L960.5,355.5 L962.1,352.0 L963.8,348.4 L965.4,344.9 L967.0,341.4 L968.6,337.9 L970.3,334.4 L971.9,330.9 L973.6,327.4 L975.3,323.9 L976.9,320.4 L978.6,316.9 L980.3,313.4 L982.0,310.0 L983.7,306.5 L985.4,303.0 L987.1,299.5 L988.8,296.1 L990.6,292.6 L992.3,289.2 L994.1,285.7 L995.8,282.3 L997.6,278.8 L999.4,275.4 L1001.1,271.9 L1002.9,268.5 L1004.7,265.1 L1006.5,261.7 L1008.4,258.2 L1010.2,254.8 L1012.0,251.4 L1013.9,248.0 L1015.7,244.6 L1017.6,241.2 L1019.5,237.8 L1021.3,234.5 L1023.2,231.1 L1025.2,227.7 L1027.1,224.3 L1029.0,221.0 L1030.9,217.6 L1032.9,214.3 L1034.8,210.9 L1036.8,207.6 L1038.8,204.3 L1040.8,201.0 L1042.8,197.7 L1044.8,194.4 L1046.9,191.1 L1048.9,187.8 L1051.0,184.5 L1053.1,181.3 L1055.2,178.0 L1057.3,174.8 L1059.4,171.5 L1061.6,168.3 L1063.7,165.1 L1065.9,161.9 L1068.1,158.7 L1070.3,155.5 L1072.5,152.3 L1074.8,149.2 L1077.0,146.0 L1079.3,142.9 L1081.6,139.8 L1083.9,136.7 L1086.2,133.6 L1088.6,130.5 L1091.0,127.4 L1093.3,124.4 L1095.7,121.3 L1098.2,118.3 L1100.6,115.3 L1103.1,112.3 L1105.6,109.4 L1108.1,106.5 L1110.7,103.6 L1113.3,100.7 L1115.9,97.9 L1118.6,95.1 L1121.3,92.3 L1124.1,89.6 L1126.9,87.0 L1129.7,84.4 L1132.6,81.8 L1135.5,79.3 L1138.5,76.9 L1141.5,74.5 L1144.6,72.2 L1147.8,69.9 L1151.0,67.8 L1154.3,65.7 L1157.6,63.6 L1161.0,61.7 L1164.4,59.8 L1167.9,58.0 L1171.4,56.3 L1174.9,54.7 L1178.5,53.1 L1182.1,51.7 L1185.8,50.3 L1189.5,49.1 L1193.2,47.9 L1197.0,46.9 L1200.7,46.1 L1204.5,45.4 L1208.3,44.9 L1212.1,44.7 L1216.0,44.6 L1219.8,44.8 L1223.6,45.2 L1227.4,45.7 L1231.2,46.5 L1234.9,47.5 L1238.6,48.6 L1242.2,49.9 L1245.8,51.3 L1249.3,52.9 L1252.8,54.7 L1256.1,56.6 L1259.5,58.6 L1262.7,60.8 L1265.9,63.1 L1269.0,65.4 L1272.0,67.9 L1275.0,70.4 L1277.9,73.0 L1280.7,75.7 L1283.5,78.4 L1286.1,81.2 L1288.8,84.1 L1291.4,87.0 L1293.9,89.9 L1296.3,92.9 L1298.7,96.0 L1301.1,99.0 L1303.4,102.2 L1305.6,105.3 L1307.8,108.5 L1310.0,111.7 L1312.1,115.0 L1314.2,118.2 L1316.2,121.5 L1318.2,124.8 L1320.1,128.2 L1322.1,131.5 L1324.0,134.9 L1325.8,138.3 L1327.7,141.7 L1329.5,145.1 L1331.3,148.5 L1333.0,152.0 L1334.7,155.4 L1336.4,158.9 L1338.1,162.4 L1339.7,165.9 L1341.3,169.4 L1342.9,172.9 L1344.4,176.5 L1346.0,180.0 L1347.5,183.6 L1349.0,187.1 L1350.4,190.7 L1351.9,194.3 L1353.3,197.9 L1354.7,201.5 L1356.1,205.1 L1357.5,208.8 L1358.8,212.4 L1360.1,216.0 L1361.5,219.7 L1362.8,223.3 L1364.0,227.0 L1365.3,230.7 L1366.6,234.3 L1367.8,238.0 L1369.0,241.7 L1370.2,245.4 L1371.4,249.1 L1372.6,252.8 L1373.8,256.5 L1375.0,260.2 L1376.1,263.9 L1377.3,267.6 L1378.4,271.3 L1379.6,275.0 L1380.7,278.7 L1381.8,282.4 L1382.9,286.1 L1384.0,289.8 L1385.1,293.5 L1386.2,297.2 L1387.2,301.0 L1388.3,304.7 L1389.3,308.4 L1390.4,312.1 L1391.4,315.9 L1392.5,319.6 L1393.5,323.3 L1394.5,327.1 L1395.5,330.8 L1396.5,334.5 L1397.5,338.3 L1398.5,342.0 L1399.4,345.8 L1400.4,349.5 L1401.3,353.3 L1402.3,357.0 L1403.2,360.8 L1404.2,364.5 L1405.1,368.3 L1406.0,372.0 L1406.9,375.8 L1407.9,379.6 L1408.8,383.3 L1409.6,387.1 L1410.5,390.9 L1411.4,394.6 L1412.3,398.4 L1413.2,402.2 L1414.0,405.9 L1414.9,409.7 L1415.7,413.5 L1416.6,417.3 L1417.4,421.0 L1418.3,424.8 L1419.1,428.6 L1419.9,432.4 L1420.7,436.2 L1421.5,439.9 L1422.3,443.7 L1423.2,447.5 L1423.9,451.3 L1424.7,455.1 L1425.5,458.9 L1426.3,462.7 L1427.1,466.5 L1427.9,470.3 L1428.6,474.1 L1429.4,477.8 L1430.2,481.6 L1430.9,485.4 L1431.7,489.2 L1432.4,493.0 L1433.2,496.8 L1433.9,500.6 L1434.6,504.4 L1435.4,508.3 L1436.1,512.1 L1436.8,515.9 L1437.5,519.7 L1438.3,523.5 L1439.0,527.3 L1439.7,531.1 L1440.4,534.9"/>
<path class="c" stroke="#D95319" stroke-width="3.0" d="M893.3,512.1 L894.6,509.5 L895.9,507.0 L897.2,504.5 L898.5,502.0 L899.8,499.5 L901.0,497.0 L902.3,494.5 L903.6,492.0 L904.9,489.5 L906.2,487.0 L907.5,484.5 L908.8,482.0 L910.1,479.5 L911.4,477.0 L912.7,474.5 L914.0,472.0 L915.3,469.5 L916.6,467.0 L917.9,464.5 L919.2,462.0 L920.5,459.5 L921.8,457.0 L923.1,454.5 L924.4,452.0 L925.7,449.5 L927.0,447.0 L928.3,444.5 L929.6,442.0 L931.0,439.5 L932.3,437.0 L933.6,434.5 L934.9,432.0 L936.3,429.5 L937.6,427.0 L938.9,424.6 L940.3,422.1 L941.6,419.6 L943.0,417.1 L944.3,414.7 L945.7,412.2 L947.1,409.7 L948.4,407.3 L949.8,404.8 L951.2,402.3 L952.6,399.9 L953.9,397.4 L955.3,395.0 L956.7,392.5 L958.1,390.1 L959.5,387.6 L961.0,385.2 L962.4,382.8 L963.8,380.3 L965.2,377.9 L966.7,375.5 L968.1,373.1 L969.6,370.7 L971.0,368.2 L972.5,365.8 L974.0,363.4 L975.4,361.0 L976.9,358.6 L978.4,356.3 L979.9,353.9 L981.4,351.5 L982.9,349.1 L984.4,346.7 L986.0,344.4 L987.5,342.0 L989.0,339.7 L990.6,337.3 L992.2,335.0 L993.7,332.6 L995.3,330.3 L996.9,327.9 L998.5,325.6 L1000.1,323.3 L1001.7,321.0 L1003.3,318.7 L1004.9,316.4 L1006.6,314.1 L1008.2,311.8 L1009.9,309.5 L1011.6,307.2 L1013.2,305.0 L1014.9,302.7 L1016.6,300.4 L1018.3,298.2 L1020.0,295.9 L1021.7,293.7 L1023.5,291.5 L1025.2,289.3 L1027.0,287.0 L1028.7,284.8 L1030.5,282.6 L1032.3,280.4 L1034.1,278.3 L1035.9,276.1 L1037.7,273.9 L1039.5,271.8 L1041.3,269.6 L1043.1,267.5 L1045.0,265.3 L1046.9,263.2 L1048.7,261.1 L1050.6,259.0 L1052.5,257.0 L1054.4,254.9 L1056.4,252.9 L1058.3,250.8 L1060.3,248.8 L1062.3,246.9 L1064.3,244.9 L1066.3,242.9 L1068.4,241.0 L1070.4,239.1 L1072.5,237.2 L1074.6,235.4 L1076.8,233.5 L1078.9,231.7 L1081.1,229.9 L1083.3,228.2 L1085.5,226.4 L1087.7,224.7 L1090.0,223.0 L1092.2,221.3 L1094.5,219.7 L1096.8,218.0 L1099.1,216.4 L1101.5,214.9 L1103.9,213.3 L1106.3,211.8 L1108.7,210.3 L1111.1,208.8 L1113.6,207.4 L1116.0,205.9 L1118.5,204.6 L1121.0,203.2 L1123.6,201.9 L1126.1,200.7 L1128.7,199.5 L1131.3,198.4 L1133.9,197.4 L1136.6,196.4 L1139.2,195.5 L1141.9,194.7 L1144.6,194.0 L1147.4,193.4 L1150.1,192.9 L1152.9,192.5 L1155.6,192.2 L1158.4,192.0 L1161.2,192.0 L1164.0,192.0 L1166.8,192.2 L1169.6,192.4 L1172.3,192.8 L1175.1,193.3 L1177.8,193.9 L1180.5,194.5 L1183.2,195.3 L1185.9,196.2 L1188.6,197.2 L1191.2,198.3 L1193.7,199.4 L1196.3,200.7 L1198.8,202.0 L1201.3,203.4 L1203.7,204.8 L1206.1,206.4 L1208.4,208.0 L1210.8,209.6 L1213.0,211.3 L1215.3,213.1 L1217.4,214.8 L1219.6,216.7 L1221.7,218.6 L1223.8,220.5 L1225.8,222.5 L1227.8,224.5 L1229.7,226.5 L1231.7,228.6 L1233.5,230.7 L1235.4,232.8 L1237.2,235.0 L1239.0,237.2 L1240.7,239.4 L1242.5,241.7 L1244.2,243.9 L1245.8,246.2 L1247.4,248.5 L1249.0,250.8 L1250.6,253.1 L1252.1,255.5 L1253.7,257.9 L1255.1,260.2 L1256.6,262.6 L1258.0,265.0 L1259.5,267.5 L1260.9,269.9 L1262.2,272.4 L1263.6,274.8 L1264.9,277.3 L1266.2,279.8 L1267.5,282.3 L1268.7,284.8 L1270.0,287.3 L1271.2,289.9 L1272.4,292.4 L1273.6,295.0 L1274.8,297.5 L1275.9,300.1 L1277.1,302.7 L1278.2,305.3 L1279.3,307.9 L1280.4,310.5 L1281.5,313.1 L1282.6,315.7 L1283.7,318.3 L1284.7,320.9 L1285.8,323.5 L1286.8,326.2 L1287.8,328.8 L1288.9,331.4 L1289.9,334.1 L1290.9,336.7 L1291.9,339.3 L1292.9,342.0 L1293.9,344.6 L1294.9,347.3 L1295.9,349.9 L1296.8,352.6 L1297.8,355.2 L1298.8,357.9 L1299.7,360.5 L1300.7,363.2 L1301.6,365.8 L1302.5,368.5 L1303.5,371.2 L1304.4,373.8 L1305.3,376.5 L1306.2,379.2 L1307.1,381.8 L1308.0,384.5 L1308.9,387.2 L1309.7,389.8 L1310.6,392.5 L1311.5,395.2 L1312.3,397.9 L1313.2,400.6 L1314.0,403.3 L1314.8,406.0 L1315.7,408.6 L1316.5,411.3 L1317.3,414.0 L1318.1,416.7 L1318.9,419.4 L1319.6,422.1 L1320.4,424.9 L1321.2,427.6 L1321.9,430.3 L1322.7,433.0 L1323.4,435.7 L1324.2,438.4 L1324.9,441.2 L1325.6,443.9 L1326.3,446.6 L1327.0,449.3 L1327.7,452.1 L1328.4,454.8 L1329.1,457.6 L1329.7,460.3 L1330.4,463.0 L1331.0,465.8 L1331.7,468.5 L1332.3,471.3 L1333.0,474.0 L1333.6,476.8 L1334.2,479.5 L1334.8,482.3 L1335.4,485.0 L1336.0,487.8 L1336.5,490.6 L1337.1,493.3 L1337.7,496.1 L1338.2,498.9 L1338.8,501.6 L1339.3,504.4 L1339.9,507.2 L1340.4,509.9 L1340.9,512.7 L1341.4,515.5 L1341.9,518.2 L1342.4,521.0 L1342.9,523.8 L1343.4,526.6 L1343.9,529.3 L1344.3,532.1 L1344.8,534.9"/>
<path class="c" stroke="#EDB120" stroke-width="3.0" d="M893.3,507.5 L894.7,505.6 L896.0,503.7 L897.4,501.7 L898.7,499.8 L900.0,497.8 L901.3,495.9 L902.6,493.9 L903.9,491.9 L905.2,489.9 L906.4,488.0 L907.7,486.0 L908.9,484.0 L910.2,482.0 L911.4,480.0 L912.6,478.0 L913.9,476.0 L915.1,473.9 L916.3,471.9 L917.5,469.9 L918.7,467.9 L919.9,465.9 L921.1,463.8 L922.3,461.8 L923.5,459.8 L924.7,457.8 L925.9,455.7 L927.1,453.7 L928.3,451.7 L929.5,449.7 L930.7,447.6 L931.9,445.6 L933.2,443.6 L934.4,441.6 L935.6,439.6 L936.8,437.6 L938.0,435.6 L939.3,433.6 L940.5,431.6 L941.8,429.6 L943.0,427.6 L944.3,425.6 L945.6,423.6 L946.9,421.6 L948.2,419.7 L949.5,417.7 L950.8,415.8 L952.1,413.8 L953.4,411.9 L954.8,409.9 L956.1,408.0 L957.5,406.1 L958.9,404.2 L960.2,402.3 L961.6,400.4 L963.0,398.5 L964.4,396.6 L965.8,394.7 L967.2,392.8 L968.6,390.9 L970.0,389.0 L971.5,387.1 L972.9,385.3 L974.4,383.4 L975.8,381.6 L977.3,379.7 L978.7,377.9 L980.2,376.0 L981.7,374.2 L983.1,372.3 L984.6,370.5 L986.1,368.7 L987.6,366.9 L989.1,365.0 L990.6,363.2 L992.1,361.4 L993.7,359.6 L995.2,357.8 L996.7,356.0 L998.2,354.2 L999.8,352.5 L1001.3,350.7 L1002.8,348.9 L1004.4,347.1 L1006.0,345.4 L1007.5,343.6 L1009.1,341.9 L1010.7,340.1 L1012.2,338.4 L1013.8,336.6 L1015.4,334.9 L1017.0,333.2 L1018.7,331.5 L1020.3,329.8 L1021.9,328.1 L1023.5,326.4 L1025.2,324.7 L1026.8,323.1 L1028.5,321.4 L1030.2,319.8 L1031.9,318.1 L1033.6,316.5 L1035.3,314.9 L1037.0,313.3 L1038.7,311.7 L1040.4,310.1 L1042.2,308.5 L1043.9,306.9 L1045.7,305.4 L1047.4,303.8 L1049.2,302.3 L1051.0,300.7 L1052.8,299.2 L1054.6,297.7 L1056.4,296.2 L1058.2,294.6 L1060.1,293.2 L1061.9,291.7 L1063.7,290.2 L1065.6,288.7 L1067.5,287.3 L1069.4,285.9 L1071.3,284.5 L1073.2,283.1 L1075.1,281.7 L1077.1,280.4 L1079.0,279.0 L1081.0,277.8 L1083.0,276.5 L1085.0,275.3 L1087.0,274.1 L1089.1,272.9 L1091.1,271.8 L1093.2,270.7 L1095.3,269.6 L1097.4,268.6 L1099.6,267.6 L1101.8,266.7 L1103.9,265.8 L1106.2,264.9 L1108.4,264.1 L1110.6,263.4 L1112.9,262.6 L1115.1,262.0 L1117.4,261.4 L1119.7,260.8 L1122.0,260.3 L1124.3,259.9 L1126.6,259.5 L1128.9,259.2 L1131.3,259.0 L1133.6,258.8 L1135.9,258.7 L1138.3,258.6 L1140.6,258.7 L1143.0,258.7 L1145.3,258.9 L1147.6,259.1 L1150.0,259.4 L1152.3,259.7 L1154.6,260.1 L1156.9,260.6 L1159.2,261.1 L1161.5,261.7 L1163.7,262.4 L1165.9,263.1 L1168.2,263.9 L1170.4,264.7 L1172.5,265.6 L1174.7,266.6 L1176.8,267.6 L1178.9,268.6 L1180.9,269.8 L1183.0,270.9 L1185.0,272.2 L1186.9,273.5 L1188.8,274.8 L1190.7,276.2 L1192.6,277.6 L1194.5,279.1 L1196.3,280.6 L1198.1,282.1 L1199.8,283.7 L1201.5,285.3 L1203.2,287.0 L1204.9,288.7 L1206.5,290.4 L1208.2,292.1 L1209.7,293.8 L1211.3,295.6 L1212.9,297.4 L1214.4,299.2 L1215.9,301.0 L1217.3,302.9 L1218.8,304.7 L1220.2,306.6 L1221.6,308.5 L1223.0,310.4 L1224.3,312.3 L1225.6,314.2 L1227.0,316.2 L1228.3,318.2 L1229.5,320.1 L1230.8,322.1 L1232.0,324.1 L1233.2,326.1 L1234.4,328.2 L1235.6,330.2 L1236.8,332.3 L1237.9,334.3 L1239.0,336.4 L1240.1,338.5 L1241.2,340.6 L1242.3,342.7 L1243.4,344.8 L1244.4,346.9 L1245.5,349.0 L1246.5,351.1 L1247.5,353.3 L1248.5,355.4 L1249.5,357.5 L1250.5,359.7 L1251.4,361.9 L1252.4,364.0 L1253.3,366.2 L1254.2,368.3 L1255.2,370.5 L1256.1,372.7 L1257.0,374.9 L1257.9,377.1 L1258.7,379.2 L1259.6,381.4 L1260.5,383.6 L1261.3,385.8 L1262.2,388.0 L1263.0,390.2 L1263.9,392.4 L1264.7,394.6 L1265.5,396.8 L1266.3,399.0 L1267.1,401.2 L1267.9,403.5 L1268.7,405.7 L1269.5,407.9 L1270.2,410.1 L1271.0,412.3 L1271.7,414.6 L1272.5,416.8 L1273.2,419.0 L1274.0,421.3 L1274.7,423.5 L1275.4,425.7 L1276.1,428.0 L1276.8,430.2 L1277.5,432.5 L1278.2,434.7 L1278.9,437.0 L1279.6,439.2 L1280.3,441.5 L1280.9,443.7 L1281.6,446.0 L1282.3,448.2 L1282.9,450.5 L1283.6,452.8 L1284.2,455.0 L1284.8,457.3 L1285.5,459.5 L1286.1,461.8 L1286.7,464.1 L1287.4,466.4 L1288.0,468.6 L1288.6,470.9 L1289.2,473.2 L1289.8,475.4 L1290.4,477.7 L1291.0,480.0 L1291.6,482.3 L1292.2,484.6 L1292.8,486.8 L1293.3,489.1 L1293.9,491.4 L1294.5,493.7 L1295.1,496.0 L1295.6,498.3 L1296.2,500.5 L1296.8,502.8 L1297.3,505.1 L1297.9,507.4 L1298.5,509.7 L1299.0,512.0 L1299.6,514.3 L1300.1,516.6 L1300.7,518.9 L1301.2,521.1 L1301.8,523.4 L1302.3,525.7 L1302.9,528.0 L1303.4,530.3 L1304.0,532.6 L1304.5,534.9"/>
<path class="c" stroke="#7E2F8E" stroke-width="3.0" d="M893.3,501.8 L894.8,500.2 L896.2,498.6 L897.6,497.0 L899.0,495.4 L900.3,493.8 L901.7,492.1 L903.0,490.4 L904.3,488.8 L905.6,487.1 L906.9,485.3 L908.1,483.6 L909.3,481.9 L910.6,480.1 L911.8,478.4 L913.0,476.7 L914.2,474.9 L915.4,473.1 L916.7,471.4 L917.9,469.6 L919.1,467.9 L920.3,466.1 L921.5,464.3 L922.7,462.6 L923.9,460.8 L925.1,459.1 L926.4,457.4 L927.6,455.6 L928.8,453.9 L930.1,452.1 L931.3,450.4 L932.5,448.7 L933.8,446.9 L935.0,445.2 L936.3,443.5 L937.6,441.8 L938.8,440.1 L940.1,438.4 L941.4,436.6 L942.7,434.9 L943.9,433.2 L945.2,431.5 L946.5,429.8 L947.8,428.2 L949.1,426.5 L950.4,424.8 L951.7,423.1 L953.0,421.4 L954.4,419.7 L955.7,418.1 L957.0,416.4 L958.4,414.7 L959.7,413.1 L961.0,411.4 L962.4,409.8 L963.7,408.1 L965.1,406.5 L966.5,404.8 L967.8,403.2 L969.2,401.6 L970.6,399.9 L972.0,398.3 L973.3,396.7 L974.7,395.1 L976.1,393.5 L977.5,391.9 L978.9,390.3 L980.4,388.7 L981.8,387.1 L983.2,385.5 L984.6,383.9 L986.0,382.3 L987.5,380.7 L988.9,379.2 L990.4,377.6 L991.8,376.0 L993.3,374.5 L994.7,372.9 L996.2,371.4 L997.7,369.8 L999.2,368.3 L1000.6,366.7 L1002.1,365.2 L1003.6,363.7 L1005.1,362.2 L1006.6,360.7 L1008.1,359.2 L1009.7,357.7 L1011.2,356.2 L1012.7,354.7 L1014.3,353.2 L1015.8,351.8 L1017.4,350.3 L1018.9,348.9 L1020.5,347.4 L1022.1,346.0 L1023.7,344.6 L1025.3,343.2 L1026.9,341.8 L1028.5,340.4 L1030.1,339.0 L1031.7,337.6 L1033.4,336.3 L1035.0,334.9 L1036.7,333.6 L1038.3,332.3 L1040.0,330.9 L1041.7,329.6 L1043.4,328.4 L1045.1,327.1 L1046.8,325.8 L1048.5,324.6 L1050.3,323.3 L1052.0,322.1 L1053.8,320.9 L1055.5,319.7 L1057.3,318.5 L1059.1,317.3 L1060.9,316.2 L1062.7,315.1 L1064.5,313.9 L1066.4,312.8 L1068.2,311.8 L1070.1,310.7 L1071.9,309.7 L1073.8,308.6 L1075.7,307.6 L1077.6,306.7 L1079.5,305.7 L1081.4,304.8 L1083.4,303.9 L1085.3,303.0 L1087.3,302.1 L1089.2,301.3 L1091.2,300.5 L1093.2,299.7 L1095.2,298.9 L1097.2,298.2 L1099.2,297.5 L1101.2,296.8 L1103.3,296.2 L1105.3,295.6 L1107.4,295.0 L1109.5,294.5 L1111.5,294.0 L1113.6,293.6 L1115.7,293.2 L1117.8,292.8 L1119.9,292.5 L1122.0,292.2 L1124.1,292.0 L1126.2,291.8 L1128.4,291.7 L1130.5,291.6 L1132.6,291.6 L1134.7,291.6 L1136.9,291.7 L1139.0,291.8 L1141.1,292.0 L1143.3,292.2 L1145.4,292.5 L1147.5,292.8 L1149.6,293.2 L1151.7,293.6 L1153.8,294.1 L1155.8,294.7 L1157.9,295.2 L1159.9,295.9 L1161.9,296.5 L1163.9,297.3 L1165.9,298.1 L1167.9,298.9 L1169.8,299.8 L1171.7,300.7 L1173.6,301.7 L1175.5,302.7 L1177.3,303.8 L1179.2,304.9 L1181.0,306.1 L1182.7,307.3 L1184.5,308.5 L1186.2,309.8 L1187.9,311.1 L1189.6,312.4 L1191.2,313.8 L1192.8,315.2 L1194.4,316.6 L1196.0,318.1 L1197.5,319.5 L1199.1,321.0 L1200.6,322.6 L1202.0,324.1 L1203.5,325.7 L1204.9,327.2 L1206.3,328.8 L1207.6,330.5 L1209.0,332.1 L1210.3,333.7 L1211.6,335.4 L1212.9,337.1 L1214.2,338.8 L1215.4,340.5 L1216.6,342.3 L1217.8,344.0 L1219.0,345.8 L1220.2,347.5 L1221.3,349.3 L1222.5,351.1 L1223.6,353.0 L1224.7,354.8 L1225.8,356.6 L1226.8,358.5 L1227.9,360.3 L1228.9,362.2 L1229.9,364.1 L1231.0,366.0 L1232.0,367.9 L1232.9,369.8 L1233.9,371.7 L1234.9,373.6 L1235.8,375.5 L1236.8,377.4 L1237.7,379.3 L1238.6,381.3 L1239.5,383.2 L1240.4,385.2 L1241.3,387.1 L1242.2,389.0 L1243.1,391.0 L1244.0,392.9 L1244.9,394.9 L1245.7,396.8 L1246.6,398.8 L1247.4,400.8 L1248.2,402.7 L1249.1,404.7 L1249.9,406.7 L1250.7,408.6 L1251.5,410.6 L1252.3,412.6 L1253.1,414.6 L1253.9,416.6 L1254.7,418.5 L1255.4,420.5 L1256.2,422.5 L1257.0,424.5 L1257.7,426.5 L1258.5,428.5 L1259.2,430.5 L1259.9,432.5 L1260.6,434.5 L1261.4,436.5 L1262.1,438.5 L1262.8,440.5 L1263.5,442.5 L1264.2,444.5 L1264.9,446.6 L1265.5,448.6 L1266.2,450.6 L1266.9,452.6 L1267.5,454.6 L1268.2,456.7 L1268.8,458.7 L1269.5,460.7 L1270.1,462.8 L1270.7,464.8 L1271.4,466.8 L1272.0,468.9 L1272.6,470.9 L1273.2,472.9 L1273.8,475.0 L1274.4,477.0 L1275.0,479.1 L1275.6,481.1 L1276.2,483.2 L1276.8,485.2 L1277.3,487.3 L1277.9,489.3 L1278.5,491.4 L1279.0,493.4 L1279.6,495.5 L1280.1,497.6 L1280.7,499.6 L1281.2,501.7 L1281.7,503.8 L1282.3,505.8 L1282.8,507.9 L1283.3,510.0 L1283.8,512.0 L1284.3,514.1 L1284.8,516.2 L1285.3,518.3 L1285.8,520.3 L1286.3,522.4 L1286.8,524.5 L1287.3,526.6 L1287.8,528.6 L1288.3,530.7 L1288.7,532.8 L1289.2,534.9"/>
<path class="c" stroke="#77AC30" stroke-width="3.0" d="M893.3,496.3 L894.7,494.8 L896.0,493.2 L897.3,491.7 L898.7,490.1 L900.0,488.5 L901.4,487.0 L902.7,485.4 L904.0,483.8 L905.4,482.3 L906.7,480.7 L908.0,479.1 L909.3,477.6 L910.7,476.0 L912.0,474.4 L913.3,472.8 L914.6,471.3 L916.0,469.7 L917.3,468.1 L918.6,466.5 L919.9,464.9 L921.2,463.4 L922.5,461.8 L923.9,460.2 L925.2,458.6 L926.5,457.0 L927.8,455.4 L929.1,453.8 L930.4,452.3 L931.8,450.7 L933.1,449.1 L934.4,447.5 L935.7,445.9 L937.0,444.4 L938.4,442.8 L939.7,441.2 L941.0,439.6 L942.3,438.0 L943.7,436.5 L945.0,434.9 L946.3,433.3 L947.7,431.8 L949.0,430.2 L950.4,428.6 L951.7,427.1 L953.0,425.5 L954.4,424.0 L955.7,422.4 L957.1,420.9 L958.4,419.3 L959.8,417.8 L961.2,416.2 L962.5,414.7 L963.9,413.1 L965.3,411.6 L966.7,410.1 L968.0,408.6 L969.4,407.0 L970.8,405.5 L972.2,404.0 L973.6,402.5 L975.0,401.0 L976.4,399.5 L977.8,398.0 L979.3,396.5 L980.7,395.1 L982.1,393.6 L983.6,392.1 L985.0,390.7 L986.4,389.2 L987.9,387.7 L989.4,386.3 L990.8,384.8 L992.3,383.4 L993.8,382.0 L995.3,380.6 L996.7,379.1 L998.2,377.7 L999.7,376.3 L1001.3,374.9 L1002.8,373.5 L1004.3,372.2 L1005.8,370.8 L1007.4,369.4 L1008.9,368.1 L1010.5,366.7 L1012.0,365.4 L1013.6,364.0 L1015.2,362.7 L1016.7,361.4 L1018.3,360.1 L1019.9,358.8 L1021.5,357.5 L1023.1,356.2 L1024.7,354.9 L1026.3,353.6 L1028.0,352.4 L1029.6,351.1 L1031.2,349.8 L1032.9,348.6 L1034.5,347.4 L1036.2,346.2 L1037.9,345.0 L1039.5,343.8 L1041.2,342.6 L1042.9,341.4 L1044.6,340.2 L1046.3,339.0 L1048.0,337.9 L1049.7,336.8 L1051.4,335.6 L1053.1,334.5 L1054.9,333.4 L1056.6,332.3 L1058.3,331.2 L1060.1,330.1 L1061.9,329.1 L1063.6,328.0 L1065.4,327.0 L1067.2,325.9 L1069.0,324.9 L1070.8,323.9 L1072.6,322.9 L1074.4,322.0 L1076.2,321.0 L1078.0,320.1 L1079.9,319.2 L1081.7,318.3 L1083.6,317.4 L1085.5,316.6 L1087.4,315.8 L1089.3,315.0 L1091.2,314.2 L1093.1,313.4 L1095.0,312.7 L1097.0,312.0 L1099.0,311.3 L1100.9,310.6 L1102.9,310.0 L1104.9,309.4 L1106.9,308.9 L1108.9,308.3 L1110.9,307.8 L1112.9,307.4 L1114.9,307.0 L1117.0,306.6 L1119.0,306.2 L1121.0,305.9 L1123.1,305.7 L1125.1,305.4 L1127.2,305.3 L1129.2,305.1 L1131.3,305.1 L1133.3,305.0 L1135.4,305.0 L1137.4,305.1 L1139.4,305.2 L1141.5,305.4 L1143.5,305.5 L1145.6,305.8 L1147.6,306.1 L1149.6,306.4 L1151.6,306.8 L1153.6,307.2 L1155.6,307.6 L1157.6,308.1 L1159.6,308.7 L1161.5,309.2 L1163.5,309.9 L1165.4,310.5 L1167.4,311.2 L1169.3,312.0 L1171.2,312.7 L1173.1,313.5 L1174.9,314.4 L1176.8,315.3 L1178.6,316.2 L1180.4,317.2 L1182.2,318.2 L1184.0,319.2 L1185.8,320.3 L1187.5,321.4 L1189.2,322.5 L1190.9,323.7 L1192.6,324.9 L1194.2,326.2 L1195.8,327.4 L1197.4,328.7 L1198.9,330.1 L1200.5,331.4 L1202.0,332.8 L1203.5,334.3 L1204.9,335.7 L1206.3,337.2 L1207.7,338.7 L1209.1,340.2 L1210.5,341.8 L1211.8,343.3 L1213.2,344.9 L1214.5,346.5 L1215.7,348.1 L1217.0,349.8 L1218.3,351.4 L1219.5,353.1 L1220.7,354.8 L1221.9,356.4 L1223.1,358.1 L1224.3,359.8 L1225.5,361.6 L1226.6,363.3 L1227.8,365.0 L1228.9,366.7 L1230.1,368.4 L1231.2,370.2 L1232.3,371.9 L1233.4,373.6 L1234.5,375.4 L1235.5,377.1 L1236.6,378.9 L1237.7,380.7 L1238.7,382.4 L1239.7,384.2 L1240.8,386.0 L1241.8,387.8 L1242.8,389.6 L1243.8,391.4 L1244.8,393.2 L1245.8,395.0 L1246.7,396.8 L1247.7,398.6 L1248.6,400.4 L1249.6,402.3 L1250.5,404.1 L1251.4,405.9 L1252.3,407.8 L1253.2,409.6 L1254.1,411.5 L1255.0,413.3 L1255.8,415.2 L1256.7,417.1 L1257.5,418.9 L1258.4,420.8 L1259.2,422.7 L1260.0,424.6 L1260.8,426.5 L1261.6,428.4 L1262.4,430.3 L1263.2,432.2 L1263.9,434.1 L1264.7,436.0 L1265.4,437.9 L1266.2,439.9 L1266.9,441.8 L1267.6,443.7 L1268.3,445.6 L1269.0,447.6 L1269.7,449.5 L1270.3,451.5 L1271.0,453.4 L1271.6,455.4 L1272.3,457.3 L1272.9,459.3 L1273.5,461.3 L1274.1,463.2 L1274.7,465.2 L1275.3,467.2 L1275.9,469.1 L1276.4,471.1 L1277.0,473.1 L1277.5,475.1 L1278.1,477.1 L1278.6,479.1 L1279.2,481.1 L1279.7,483.0 L1280.2,485.0 L1280.7,487.0 L1281.2,489.0 L1281.7,491.0 L1282.2,493.0 L1282.7,495.0 L1283.2,497.0 L1283.7,499.0 L1284.2,501.0 L1284.7,503.0 L1285.2,505.0 L1285.7,507.0 L1286.2,509.0 L1286.7,511.0 L1287.2,513.0 L1287.7,515.0 L1288.2,517.0 L1288.7,519.0 L1289.2,521.0 L1289.7,523.0 L1290.2,525.0 L1290.8,527.0 L1291.3,529.0 L1291.8,530.9 L1292.4,532.9 L1292.9,534.9"/>
<path class="c" stroke="#4DBEEE" stroke-width="3.0" d="M893.3,489.5 L894.7,487.9 L896.0,486.3 L897.4,484.7 L898.8,483.1 L900.2,481.5 L901.6,479.9 L903.0,478.3 L904.4,476.7 L905.8,475.1 L907.2,473.6 L908.6,472.0 L910.0,470.4 L911.5,468.9 L912.9,467.3 L914.3,465.8 L915.7,464.2 L917.2,462.7 L918.6,461.1 L920.1,459.6 L921.5,458.1 L922.9,456.5 L924.4,455.0 L925.8,453.5 L927.3,452.0 L928.7,450.4 L930.2,448.9 L931.6,447.4 L933.1,445.9 L934.6,444.3 L936.0,442.8 L937.5,441.3 L938.9,439.8 L940.4,438.3 L941.9,436.7 L943.3,435.2 L944.8,433.7 L946.2,432.2 L947.7,430.7 L949.2,429.1 L950.6,427.6 L952.1,426.1 L953.6,424.6 L955.0,423.0 L956.5,421.5 L957.9,420.0 L959.4,418.5 L960.9,416.9 L962.3,415.4 L963.8,413.9 L965.3,412.3 L966.7,410.8 L968.2,409.3 L969.7,407.8 L971.2,406.2 L972.6,404.7 L974.1,403.2 L975.6,401.7 L977.1,400.2 L978.6,398.7 L980.1,397.2 L981.6,395.7 L983.1,394.2 L984.6,392.7 L986.1,391.2 L987.6,389.7 L989.1,388.3 L990.6,386.8 L992.1,385.4 L993.7,383.9 L995.2,382.5 L996.8,381.0 L998.3,379.6 L999.9,378.2 L1001.4,376.8 L1003.0,375.3 L1004.6,374.0 L1006.1,372.6 L1007.7,371.2 L1009.3,369.8 L1010.9,368.5 L1012.5,367.1 L1014.2,365.8 L1015.8,364.4 L1017.4,363.1 L1019.1,361.8 L1020.7,360.5 L1022.3,359.2 L1024.0,357.9 L1025.7,356.6 L1027.3,355.4 L1029.0,354.1 L1030.7,352.8 L1032.4,351.6 L1034.1,350.4 L1035.8,349.2 L1037.5,348.0 L1039.3,346.8 L1041.0,345.6 L1042.8,344.4 L1044.5,343.2 L1046.3,342.0 L1048.0,340.9 L1049.8,339.8 L1051.6,338.6 L1053.4,337.5 L1055.2,336.4 L1057.0,335.3 L1058.8,334.2 L1060.6,333.1 L1062.4,332.0 L1064.3,331.0 L1066.1,329.9 L1068.0,328.9 L1069.8,327.8 L1071.7,326.8 L1073.6,325.8 L1075.5,324.8 L1077.3,323.8 L1079.2,322.9 L1081.2,321.9 L1083.1,321.0 L1085.0,320.1 L1086.9,319.1 L1088.9,318.3 L1090.8,317.4 L1092.8,316.5 L1094.7,315.7 L1096.7,314.9 L1098.6,314.1 L1100.6,313.4 L1102.6,312.6 L1104.6,311.9 L1106.6,311.2 L1108.6,310.6 L1110.6,309.9 L1112.6,309.3 L1114.6,308.8 L1116.7,308.2 L1118.7,307.7 L1120.7,307.2 L1122.8,306.7 L1124.8,306.3 L1126.9,305.9 L1128.9,305.6 L1131.0,305.2 L1133.1,305.0 L1135.1,304.7 L1137.2,304.5 L1139.3,304.3 L1141.4,304.2 L1143.5,304.1 L1145.6,304.0 L1147.7,304.0 L1149.8,304.0 L1151.9,304.1 L1154.0,304.2 L1156.1,304.3 L1158.2,304.5 L1160.3,304.7 L1162.4,305.0 L1164.5,305.3 L1166.5,305.7 L1168.6,306.0 L1170.7,306.4 L1172.8,306.9 L1174.8,307.4 L1176.9,307.9 L1178.9,308.5 L1181.0,309.1 L1183.0,309.8 L1185.0,310.4 L1187.0,311.2 L1189.0,311.9 L1190.9,312.7 L1192.9,313.6 L1194.8,314.4 L1196.7,315.3 L1198.6,316.3 L1200.5,317.3 L1202.3,318.3 L1204.1,319.3 L1206.0,320.4 L1207.7,321.5 L1209.5,322.7 L1211.2,323.9 L1212.9,325.1 L1214.6,326.4 L1216.3,327.7 L1217.9,329.0 L1219.5,330.4 L1221.0,331.8 L1222.6,333.2 L1224.1,334.6 L1225.6,336.1 L1227.0,337.6 L1228.5,339.2 L1229.9,340.7 L1231.3,342.3 L1232.7,343.9 L1234.0,345.5 L1235.4,347.1 L1236.7,348.8 L1238.0,350.5 L1239.4,352.1 L1240.6,353.8 L1241.9,355.5 L1243.2,357.2 L1244.5,358.9 L1245.7,360.6 L1247.0,362.4 L1248.2,364.1 L1249.4,365.8 L1250.6,367.6 L1251.8,369.3 L1253.0,371.1 L1254.2,372.8 L1255.4,374.6 L1256.6,376.3 L1257.7,378.1 L1258.9,379.9 L1260.0,381.7 L1261.1,383.5 L1262.2,385.3 L1263.3,387.1 L1264.4,388.9 L1265.4,390.7 L1266.5,392.5 L1267.5,394.4 L1268.5,396.2 L1269.6,398.1 L1270.6,399.9 L1271.5,401.8 L1272.5,403.6 L1273.5,405.5 L1274.4,407.4 L1275.4,409.3 L1276.3,411.2 L1277.2,413.1 L1278.1,415.0 L1279.0,416.9 L1279.9,418.8 L1280.8,420.7 L1281.6,422.6 L1282.5,424.5 L1283.3,426.5 L1284.2,428.4 L1285.0,430.3 L1285.8,432.3 L1286.6,434.2 L1287.4,436.2 L1288.2,438.1 L1288.9,440.1 L1289.7,442.1 L1290.5,444.0 L1291.2,446.0 L1292.0,448.0 L1292.7,450.0 L1293.4,451.9 L1294.1,453.9 L1294.8,455.9 L1295.5,457.9 L1296.2,459.9 L1296.9,461.9 L1297.6,463.9 L1298.3,465.9 L1298.9,467.9 L1299.6,469.9 L1300.2,471.9 L1300.9,473.9 L1301.5,476.0 L1302.2,478.0 L1302.8,480.0 L1303.4,482.0 L1304.0,484.0 L1304.6,486.1 L1305.2,488.1 L1305.8,490.1 L1306.4,492.2 L1307.0,494.2 L1307.6,496.2 L1308.2,498.2 L1308.8,500.3 L1309.3,502.3 L1309.9,504.4 L1310.5,506.4 L1311.0,508.4 L1311.6,510.5 L1312.2,512.5 L1312.7,514.5 L1313.3,516.6 L1313.8,518.6 L1314.3,520.7 L1314.9,522.7 L1315.4,524.7 L1316.0,526.8 L1316.5,528.8 L1317.0,530.8 L1317.6,532.9 L1318.1,534.9"/>
</g>
<text class="lb" x="1174.0" y="597.8">K</text><text class="sb" x="1192.5" y="610.5">p</text>
<g transform="translate(838.65,283.65) rotate(-90)"><text class="lb" x="0" y="0">K</text><text class="sb" x="19.6" y="13.1">i</text></g>
<path d="M1357.7,44.0H1401.5" stroke="#0072BD" stroke-width="3.0"/>
<text class="lg" transform="translate(1404.8,52.4) scale(1,1.06)">y=25%</text>
<path d="M1357.7,69.0H1401.5" stroke="#D95319" stroke-width="3.0"/>
<text class="lg" transform="translate(1404.8,77.5) scale(1,1.06)">y=35%</text>
<path d="M1357.7,94.1H1401.5" stroke="#EDB120" stroke-width="3.0"/>
<text class="lg" transform="translate(1404.8,102.5) scale(1,1.06)">y=45%</text>
<path d="M1357.7,119.2H1401.5" stroke="#7E2F8E" stroke-width="3.0"/>
<text class="lg" transform="translate(1404.8,127.6) scale(1,1.06)">y=55%</text>
<path d="M1357.7,144.2H1401.5" stroke="#77AC30" stroke-width="3.0"/>
<text class="lg" transform="translate(1404.8,152.6) scale(1,1.06)">y=65%</text>
<path d="M1357.7,169.2H1401.5" stroke="#4DBEEE" stroke-width="3.0"/>
<text class="lg" transform="translate(1404.8,177.7) scale(1,1.06)">y=75%</text>
</g>
<text class="cap" x="365.05" y="662.0" text-anchor="middle">(a) Stability domain under rated needle</text>
<text class="cap" x="364.95" y="716.4" text-anchor="middle">opening</text>
<text class="cap" x="1177.0" y="662.0" text-anchor="middle">(b) Stability domain under rated water</text>
<text class="cap" x="1176.0" y="716.3" text-anchor="middle">head</text>
</svg></body></html>
